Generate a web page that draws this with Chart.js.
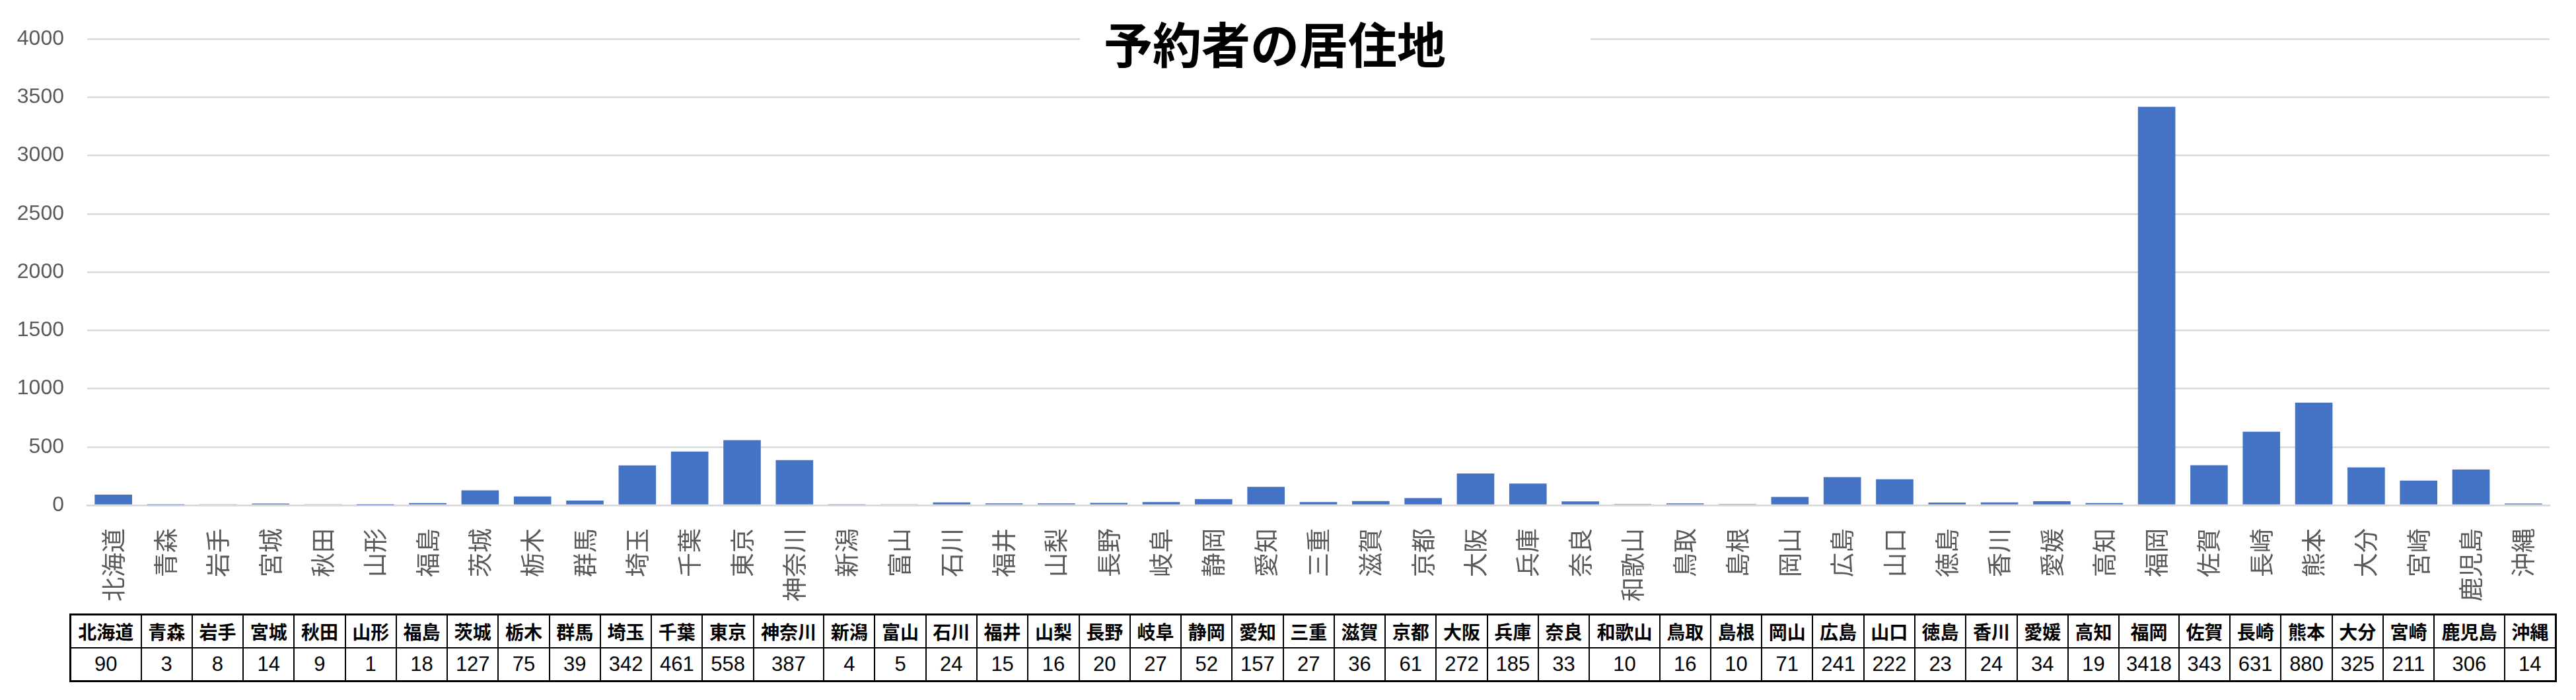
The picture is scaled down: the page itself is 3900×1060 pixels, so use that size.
<!DOCTYPE html>
<html lang="ja">
<head>
  <meta charset="UTF-8" />
  <title>予約者の居住地</title>
  <style>
    html, body { margin: 0; padding: 0; background: #fff; }
    body { width: 3900px; height: 1060px; position: relative; overflow: hidden; }
    #wrap { position: absolute; left: 0; top: 0; width: 3900px; height: 920px; }
    #tbl {
      position: absolute; left: 105px; top: 929px; width: 3766px;
      border-collapse: collapse; border: 3px solid #000;
      font-family: "Noto Sans CJK JP", sans-serif; font-size: 28px; font-weight: 700; color: #000;
    }
    #tbl td {
      border: 2px solid #000; height: 48px; padding: 0 8px;
      text-align: center; white-space: nowrap; line-height: 48px;
    }
    #valRow td { font-family: "Liberation Sans Narrow", "Liberation Sans", sans-serif; font-size: 31px; font-weight: 400; }
  </style>
</head>
<body>
  <div id="wrap"><canvas id="chart" width="3900" height="920"></canvas></div>
  <table id="tbl"><tr id="headRow"></tr><tr id="valRow"></tr></table>

  <script src="https://cdn.jsdelivr.net/npm/chart.js"></script>
  <script>
    const chartTitle = '予約者の居住地';
    const prefectures = ['北海道','青森','岩手','宮城','秋田','山形','福島','茨城','栃木','群馬','埼玉','千葉','東京','神奈川',
      '新潟','富山','石川','福井','山梨','長野','岐阜','静岡','愛知','三重','滋賀','京都','大阪','兵庫','奈良','和歌山',
      '鳥取','島根','岡山','広島','山口','徳島','香川','愛媛','高知','福岡','佐賀','長崎','熊本','大分','宮崎','鹿児島','沖縄'];
    const counts = [90, 3, 8, 14, 9, 1, 18, 127, 75, 39, 342, 461, 558, 387,
      4, 5, 24, 15, 16, 20, 27, 52, 157, 27, 36, 61, 272, 185, 33, 10,
      16, 10, 71, 241, 222, 23, 24, 34, 19, 3418, 343, 631, 880, 325, 211, 306, 14];
    const yMin = 0;
    const yMax = 4000;
    const yStep = 500;

    // data table under the chart
    const headRow = document.getElementById('headRow');
    const valRow = document.getElementById('valRow');
    prefectures.forEach((p, i) => {
      const th = document.createElement('td');
      th.textContent = p;
      headRow.appendChild(th);
      const td = document.createElement('td');
      td.textContent = counts[i];
      valRow.appendChild(td);
    });

    // title sits on top of the plot with a white box behind it
    const boxTitle = {
      id: 'boxTitle',
      afterDraw(chart) {
        const c = chart.ctx;
        c.save();
        c.fillStyle = '#fff';
        c.fillRect(1635, 20, 773, 85);
        c.fillStyle = '#000';
        c.font = 'bold 74px "Noto Sans CJK JP"';
        c.textBaseline = 'middle';
        c.fillText(chartTitle, 1671, 68);
        c.restore();
      }
    };

    const ctx = document.getElementById('chart').getContext('2d');
    new Chart(ctx, {
      type: 'bar',
      data: {
        labels: prefectures,
        datasets: [{
          data: counts,
          backgroundColor: '#4472C4',
          categoryPercentage: 1,
          barPercentage: 0.714
        }]
      },
      options: {
        responsive: false,
        animation: false,
        devicePixelRatio: 1,
        layout: { padding: { top: 59, right: 40, left: 0, bottom: 0 } },
        plugins: { legend: { display: false }, tooltip: { enabled: false } },
        scales: {
          x: {
            grid: { display: false },
            border: { color: '#d9d9d9', width: 2.5 },
            ticks: {
              color: '#595959',
              font: { family: '"Noto Sans CJK JP"', size: 37 },
              maxRotation: 90, minRotation: 90,
              autoSkip: false,
              padding: 27
            },
            afterFit: s => { s.height = 155; }
          },
          y: {
            min: yMin, max: yMax,
            grid: { color: '#d9d9d9', lineWidth: 2.5, drawTicks: false },
            border: { display: false },
            ticks: {
              stepSize: yStep,
              color: '#595959',
              font: { family: '"Liberation Sans"', size: 32 },
              padding: 35,
              callback: v => String(v)
            },
            afterFit: s => { s.width = 132; }
          }
        }
      },
      plugins: [boxTitle]
    });
  </script>
</body>
</html>
